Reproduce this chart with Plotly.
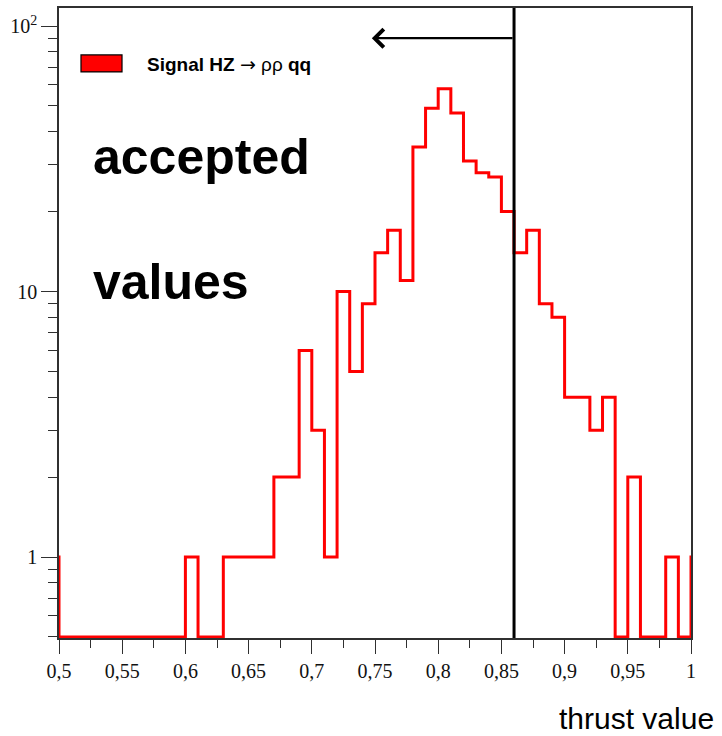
import numpy as np
import plotly.graph_objects as go

# Thrust distribution for the HZ -> rho rho qq signal, 0.01-wide bins
bin_start = 0.49
bin_width = 0.01
counts = [
    1,                              # 0.49
    0, 0, 0, 0, 0, 0, 0, 0, 0, 0,   # 0.50 - 0.59
    1, 0, 0, 1, 1, 1, 1,            # 0.60 - 0.66
    2, 2, 6, 3, 1,                  # 0.67 - 0.71
    10, 5, 9, 14, 17, 11,           # 0.72 - 0.77
    35, 49, 58, 47, 31, 28, 27, 20, # 0.78 - 0.85
    14, 17, 9, 8, 4, 4, 3, 4,       # 0.86 - 0.93
    0, 2, 0, 0, 1, 0,               # 0.94 - 0.99
    1,                              # 1.00
]

cut_value = 0.86          # thrust cut, events below are accepted
arrow_end = 0.7475        # where the "accepted" arrow points to
arrow_level = 90          # height of the arrow on the count axis

x_ticks = [0.5, 0.55, 0.6, 0.65, 0.7, 0.75, 0.8, 0.85, 0.9, 0.95, 1.0]
x_ticktext = ["0,5", "0,55", "0,6", "0,65", "0,7", "0,75", "0,8", "0,85", "0,9", "0,95", "1"]
y_ticks = [1, 10, 100]
y_ticktext = ["1", "10", "10<sup>2</sup>"]

# log-axis floor: empty bins are drawn on the frame bottom
y_floor = 0.5
y_log_range = [np.log10(y_floor) - 0.004, 2.068]

n = len(counts)
edges = np.round(bin_start + bin_width * np.arange(n + 1), 4)
heights = [c if c > 0 else y_floor for c in counts]
step_y = heights + [heights[-1]]

axis_col = "#303030"
tick_font = dict(family="Liberation Serif", size=20, color="#111")

fig = go.Figure()
fig.add_trace(go.Scatter(
    x=edges, y=step_y, mode="lines", line_shape="hv",
    line=dict(color="#ff0000", width=3), showlegend=False, hoverinfo="skip",
))

y_minor = [m * 10.0 ** e for e in (-1, 0, 1, 2) for m in range(2, 10)]

fig.update_layout(
    width=722, height=736,
    margin=dict(l=59, r=31, t=6, b=98),
    paper_bgcolor="white", plot_bgcolor="white",
    xaxis=dict(
        range=[0.5, 1.0], showgrid=False, zeroline=False,
        showline=True, linecolor=axis_col, linewidth=1.5, mirror=True,
        ticks="outside", ticklen=14, tickwidth=1.3, tickcolor=axis_col,
        tickvals=x_ticks, ticktext=x_ticktext, tickfont=tick_font,
        minor=dict(dtick=0.025, tick0=0.5, ticks="outside", ticklen=8,
                   tickwidth=1.3, tickcolor=axis_col, showgrid=False),
    ),
    yaxis=dict(
        type="log", range=y_log_range, showgrid=False, zeroline=False,
        showline=True, linecolor=axis_col, linewidth=1.5, mirror=True,
        ticks="outside", ticklen=16, tickwidth=1.3, tickcolor=axis_col,
        tickvals=y_ticks, ticktext=y_ticktext, tickfont=tick_font,
        minor=dict(tickvals=y_minor, ticks="outside", ticklen=9,
                   tickwidth=1.3, tickcolor=axis_col, showgrid=False),
    ),
)

# cut line
fig.add_shape(type="line", xref="x", yref="paper",
              x0=cut_value, x1=cut_value, y0=0, y1=1,
              line=dict(color="black", width=3))

# arrow pointing to the accepted region
fig.add_annotation(
    x=arrow_end, y=np.log10(arrow_level), xref="x", yref="y",
    ax=cut_value, ay=np.log10(arrow_level), axref="x", ayref="y",
    text="", showarrow=True, arrowhead=4, arrowsize=1.6,
    arrowwidth=2.2, arrowcolor="black",
)

# legend entry
fig.add_shape(type="rect", xref="paper", yref="paper",
              x0=0.0348, x1=0.0997, y0=0.8986, y1=0.9255,
              fillcolor="#ff0000", line=dict(color="black", width=1.2))
fig.add_annotation(
    x=0.136, y=0.9113, xref="paper", yref="paper",
    xanchor="left", yanchor="middle", showarrow=False,
    text="<b>Signal HZ</b> <span style='font-family:DejaVu Sans'>\u2192</span> \u03c1\u03c1 <b>qq</b>",
    font=dict(family="Liberation Sans", size=19, color="black"),
)

big_font = dict(family="Liberation Sans", size=50, color="black")
fig.add_annotation(x=0.0506, y=0.7640, xref="paper", yref="paper",
                   xanchor="left", yanchor="middle", showarrow=False,
                   text="<b>accepted</b>", font=big_font)
fig.add_annotation(x=0.0506, y=0.5650, xref="paper", yref="paper",
                   xanchor="left", yanchor="middle", showarrow=False,
                   text="<b>values</b>", font=big_font)

# x-axis title, right aligned under the frame
fig.add_annotation(x=1.038, y=-0.128, xref="paper", yref="paper",
                   xanchor="right", yanchor="middle", showarrow=False,
                   text="thrust value", borderpad=0,
                   font=dict(family="Liberation Sans", size=30, color="black"))

fig.write_html("out.html")
